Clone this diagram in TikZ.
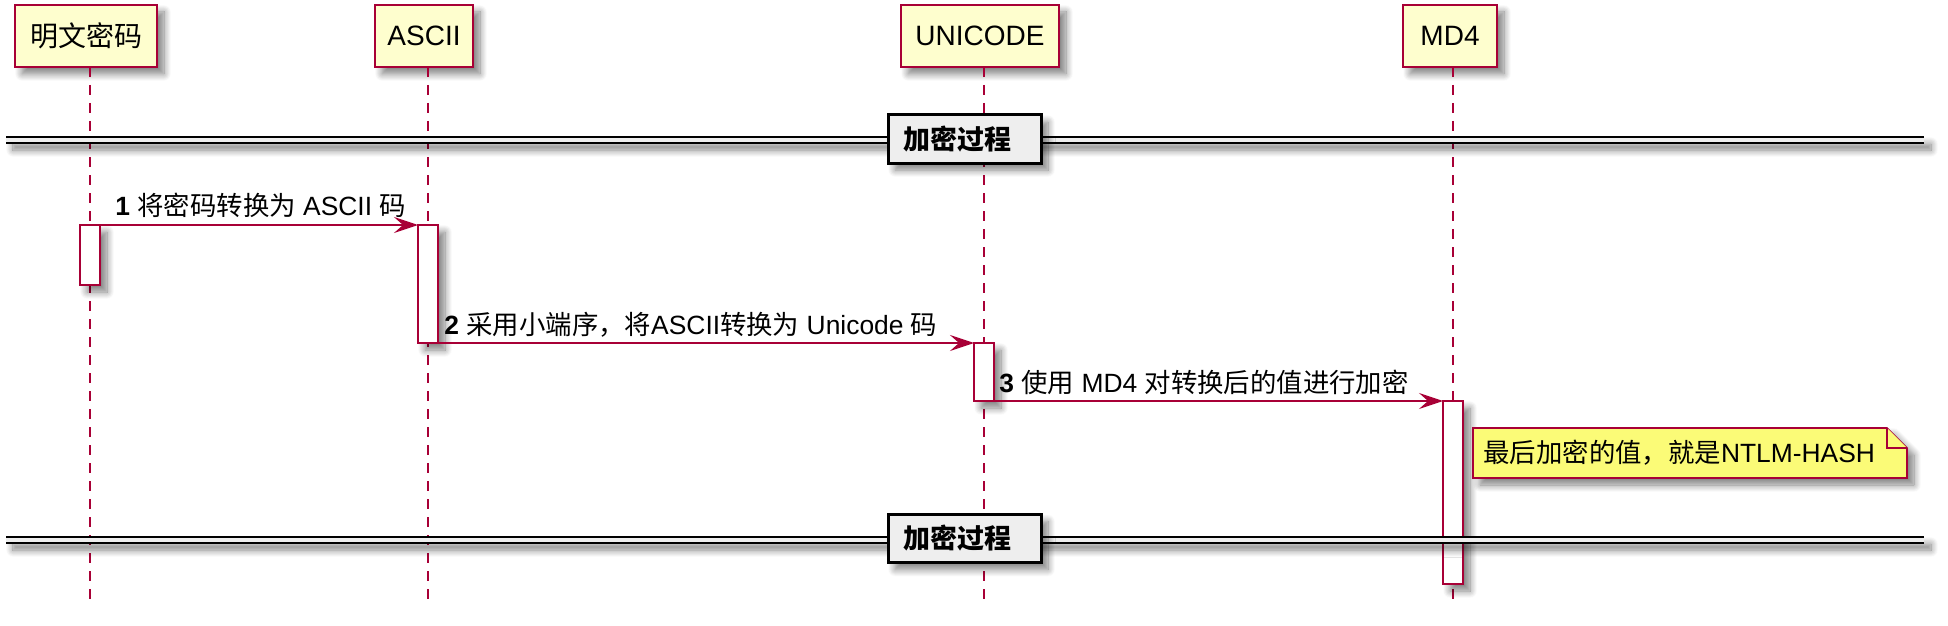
\documentclass[tikz,border=0pt]{standalone}
\usepackage{fontspec}
\setmainfont{Liberation Sans}
\newfontfamily\cjk{Noto Sans CJK SC}
\usetikzlibrary{arrows.meta,shadows.blur}
\definecolor{pborder}{HTML}{A80036}
\definecolor{pfill}{HTML}{FEFECE}
\definecolor{nfill}{HTML}{FBFB77}
\definecolor{sfill}{HTML}{EEEEEE}
\begin{document}
\begin{tikzpicture}[x=0.5pt,y=-0.5pt,
  shade/.style={blur shadow={shadow xshift=3.5pt,shadow yshift=-3.5pt,shadow blur radius=3.5pt,shadow blur steps=10,shadow opacity=50}},
  part/.style={draw=pborder,fill=pfill,line width=1pt,minimum height=31pt,inner sep=0pt,outer sep=0pt,font=\fontsize{14}{16}\selectfont,shade},
  actbar/.style={draw=pborder,fill=white,line width=0.9pt,minimum width=10pt,inner sep=0pt,outer sep=0pt,shade},
  life/.style={draw=pborder,line width=0.9pt,dash pattern=on 5pt off 4pt},
  msg/.style={draw=pborder,line width=1pt,-{Stealth[length=12pt,width=8pt,inset=4.5pt]}},
  lbl/.style={anchor=base west,inner sep=0pt,font=\fontsize{13.2}{15}\selectfont},
  sepbox/.style={anchor=west,draw=black,line width=1.5pt,fill=sfill,minimum height=24pt,inner xsep=7.5pt,inner ysep=0pt,outer sep=0pt,text width=61.5pt,align=left,font=\fontsize{13.5}{15}\cjk\bfseries,shade},
  sepline/.style={line width=0.8pt,draw=black},
  notebox/.style={fill=nfill,draw=pborder,line width=0.8pt}
]
\useasboundingbox (0,0) rectangle (1948,626);

% participants
\node[part,minimum width=71pt] (p1) at (86,36) {\cjk 明文密码};
\node[part,minimum width=49pt] (p2) at (424,36) {ASCII};
\node[part,minimum width=79pt] (p3) at (980,36) {UNICODE};
\node[part,minimum width=47pt] (p4) at (1450,36) {MD4};

% lifelines
\coordinate (e1) at (90,605);
\coordinate (e2) at (428,605);
\coordinate (e3) at (984,605);
\coordinate (e4) at (1453,605);
\draw[life] (p1.south -| e1) -- (e1);
\draw[life] (p2.south -| e2) -- (e2);
\draw[life] (p3.south -| e3) -- (e3);
\draw[life] (p4.south -| e4) -- (e4);

% activation bars
\node[actbar,minimum height=30pt] (b1) at (90,255) {};
\node[actbar,minimum height=59pt] (b2) at (428,284) {};
\node[actbar,minimum height=29pt] (b3) at (984,372) {};
\node[actbar,minimum height=91.5pt] (b4) at (1453,492.5) {};

% separators
\fill[sfill,shade] (6,137) rectangle (1924,143);
\draw[sepline] (6,137) -- (1924,137) (6,143) -- (1924,143);
\node[sepbox] (s1) at (888,139) {加密过程};

\fill[sfill,shade] (6,537) rectangle (1924,543);
\draw[sepline] (6,537) -- (1924,537) (6,543) -- (1924,543);
\node[sepbox] (s2) at (888,538.5) {加密过程};

% note
\path[notebox,shade] (1473,428) -- (1887,428) -- (1907,448) -- (1907,478) -- (1473,478) -- cycle;
\draw[notebox] (1887,428) -- (1887,448) -- (1907,448);
\node[lbl] (n1) at (1483,462) {{\cjk 最后加密的值，就是}NTLM-HASH};

% messages
\draw[msg] (b1.north east) -- (b2.north west);
\node[lbl] (m1) at (115,215) {\textbf{1} {\cjk 将密码转换为} ASCII {\cjk 码}};
\draw[msg] (b2.south east) -- (b3.north west);
\node[lbl] (m2) at (444,334) {\textbf{2} {\cjk 采用小端序，将}ASCII{\cjk 转换为} Unicode {\cjk 码}};
\draw[msg] (b3.south east) -- (b4.north west);
\node[lbl] (m3) at (999,392) {\textbf{3} {\cjk 使用} MD4 {\cjk 对转换后的值进行加密}};
\end{tikzpicture}
\end{document}
